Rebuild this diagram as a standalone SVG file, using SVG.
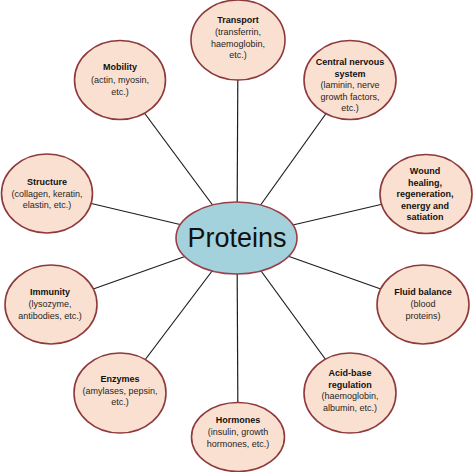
<svg xmlns="http://www.w3.org/2000/svg" width="474" height="472" viewBox="0 0 474 472">
<style>
.n{fill:#FAE0D0;stroke:#8E3A3C;stroke-width:1.6}
.c{fill:#A3D2DD;stroke:#9A4048;stroke-width:1.6}
.t{font-family:"Liberation Sans",Arial,sans-serif;font-size:9px;fill:#262626;text-anchor:middle}
.b{font-weight:bold;fill:#111}
.big{font-family:"Liberation Sans",Arial,sans-serif;font-size:27px;fill:#111;text-anchor:middle}
#connectors line{stroke:#1e1e1e;stroke-width:1.2}
</style>
<rect width="474" height="472" fill="#fff"/>
<g id="connectors">
<line x1="238" y1="40" x2="237" y2="238"/>
<line x1="237" y1="238" x2="238" y2="437"/>
<line x1="120" y1="80" x2="237" y2="238"/>
<line x1="47" y1="193" x2="237" y2="238"/>
<line x1="350" y1="80" x2="237" y2="238"/>
<line x1="426" y1="194" x2="237" y2="238"/>
<line x1="51" y1="304" x2="237" y2="238"/>
<line x1="120" y1="393" x2="237" y2="238"/>
<line x1="423" y1="304" x2="237" y2="238"/>
<line x1="350" y1="393" x2="237" y2="238"/>
</g>
<g id="proteins">
<ellipse class="c" cx="236.5" cy="238" rx="60.5" ry="36"/>
<text class="big" x="237" y="247">Proteins</text>
</g>
<g id="transport">
<ellipse class="n" cx="238" cy="40" rx="47" ry="40"/>
<text class="t" x="238"><tspan class="b" x="238" y="23">Transport</tspan><tspan x="238" y="35">(transferrin,</tspan><tspan x="238" y="46.5">haemoglobin,</tspan><tspan x="238" y="58">etc.)</tspan></text>
</g>
<g id="mobility">
<ellipse class="n" cx="120" cy="80" rx="45.5" ry="39.5"/>
<text class="t"><tspan class="b" x="120" y="70">Mobility</tspan><tspan x="120" y="83">(actin, myosin,</tspan><tspan x="120" y="94.5">etc.)</tspan></text>
</g>
<g id="cns">
<ellipse class="n" cx="350" cy="80" rx="46" ry="39.5"/>
<text class="t"><tspan class="b" x="350" y="65">Central nervous</tspan><tspan class="b" x="350" y="76.5">system</tspan><tspan x="350" y="88">(laminin, nerve</tspan><tspan x="350" y="99.5">growth factors,</tspan><tspan x="350" y="111">etc.)</tspan></text>
</g>
<g id="structure">
<ellipse class="n" cx="47" cy="193.5" rx="45.5" ry="39.5"/>
<text class="t"><tspan class="b" x="47" y="185">Structure</tspan><tspan x="47" y="196.5">(collagen, keratin,</tspan><tspan x="47" y="208">elastin, etc.)</tspan></text>
</g>
<g id="wound">
<ellipse class="n" cx="426" cy="194" rx="46" ry="39.5"/>
<text class="t"><tspan class="b" x="425" y="174">Wound</tspan><tspan class="b" x="425" y="185.5">healing,</tspan><tspan class="b" x="425" y="197">regeneration,</tspan><tspan class="b" x="425" y="208.5">energy and</tspan><tspan class="b" x="425" y="220">satiation</tspan></text>
</g>
<g id="immunity">
<ellipse class="n" cx="51" cy="304.5" rx="46" ry="39.5"/>
<text class="t"><tspan class="b" x="50" y="294.5">Immunity</tspan><tspan x="50" y="306.5">(lysozyme,</tspan><tspan x="50" y="318.5">antibodies, etc.)</tspan></text>
</g>
<g id="fluid">
<ellipse class="n" cx="423" cy="304.5" rx="46" ry="39.5"/>
<text class="t"><tspan class="b" x="423" y="294.5">Fluid balance</tspan><tspan x="423" y="306.5">(blood</tspan><tspan x="423" y="318.5">proteins)</tspan></text>
</g>
<g id="enzymes">
<ellipse class="n" cx="120" cy="393" rx="46" ry="40"/>
<text class="t"><tspan class="b" x="120" y="381.5">Enzymes</tspan><tspan x="120" y="393.5">(amylases, pepsin,</tspan><tspan x="120" y="405">etc.)</tspan></text>
</g>
<g id="acidbase">
<ellipse class="n" cx="350" cy="393" rx="46" ry="40"/>
<text class="t"><tspan class="b" x="350" y="376">Acid-base</tspan><tspan class="b" x="350" y="387.5">regulation</tspan><tspan x="350" y="399">(haemoglobin,</tspan><tspan x="350" y="410.5">albumin, etc.)</tspan></text>
</g>
<g id="hormones">
<ellipse class="n" cx="238" cy="437" rx="46.5" ry="34.5"/>
<text class="t"><tspan class="b" x="238" y="422.5">Hormones</tspan><tspan x="238" y="435">(insulin, growth</tspan><tspan x="238" y="446.5">hormones, etc.)</tspan></text>
</g>
</svg>
